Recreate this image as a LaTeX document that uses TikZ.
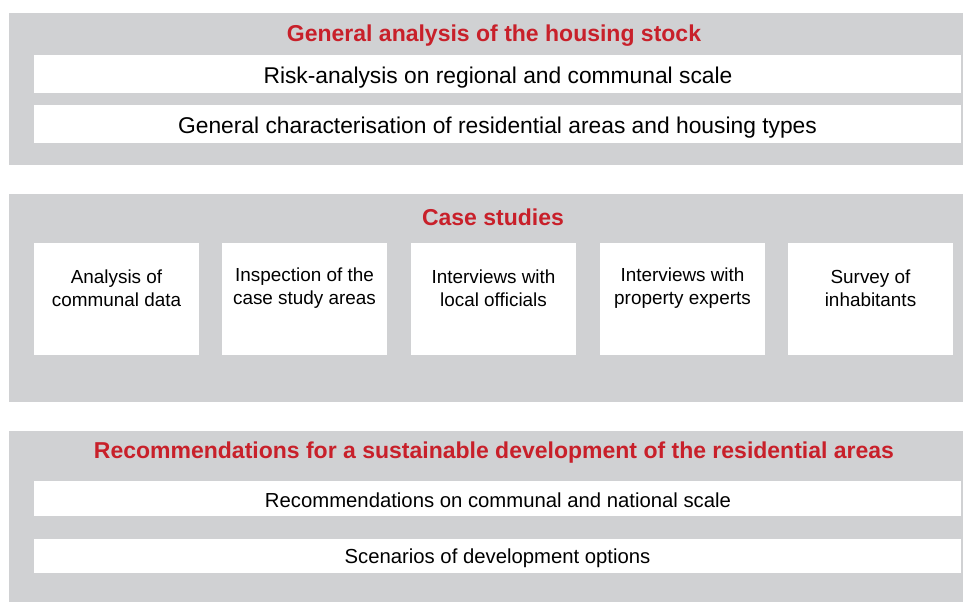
\documentclass[tikz,border=0pt]{standalone}
\usepackage{fontspec}
\setmainfont{Liberation Sans}
\definecolor{panelgray}{RGB}{208,209,211}
\definecolor{titlered}{RGB}{200,32,42}
\begin{document}
\begin{tikzpicture}[x=1pt,y=-1pt,
  panel/.style={fill=panelgray,draw=none},
  ttl/.style={text=titlered,font=\fontsize{23}{26}\selectfont\bfseries,anchor=center},
  line/.style={font=\fontsize{22.8}{26}\selectfont,anchor=center},
  rline/.style={font=\fontsize{20.3}{24}\selectfont,anchor=center},
  cs/.style={font=\fontsize{18.9}{23}\selectfont,align=center,anchor=center}]
\useasboundingbox (0,0) rectangle (963,602);
% panels
\fill[panel] (9,13) rectangle (963,165);
\fill[panel] (9,194) rectangle (963,402);
\fill[panel] (9,431) rectangle (963,602);
% panel 1
\node[ttl] (t1) at (494,36) {General analysis of the housing stock};
\fill[white] (34,55) rectangle (961,93);
\node[line] (r1) at (498,77.5) {Risk-analysis on regional and communal scale};
\fill[white] (34,105) rectangle (961,143);
\node[line] (r2) at (497.5,127.5) {General characterisation of residential areas and housing types};
% panel 2
\node[ttl] (t2) at (493,217) {Case studies};
\foreach \x/\n/\t in {34/c1/{Analysis of\\communal data},222/c2/{Inspection of the\\case study areas},411/c3/{Interviews with\\local officials},600/c4/{Interviews with\\property experts},788/c5/{Survey of\\inhabitants}}{
  \fill[white] (\x,243) rectangle ++(165,112);
  \node[cs] (\n) at (\x+82.5,288.5) {\t};
}
% panel 3
\node[ttl] (t3) at (494,453) {Recommendations for a sustainable development of the residential areas};
\fill[white] (34,481) rectangle (961,516);
\node[rline] (s1) at (498,500) {Recommendations on communal and national scale};
\fill[white] (34,539) rectangle (961,573);
\node[rline] (s2) at (497.5,558) {Scenarios of development options};
\end{tikzpicture}
\end{document}
